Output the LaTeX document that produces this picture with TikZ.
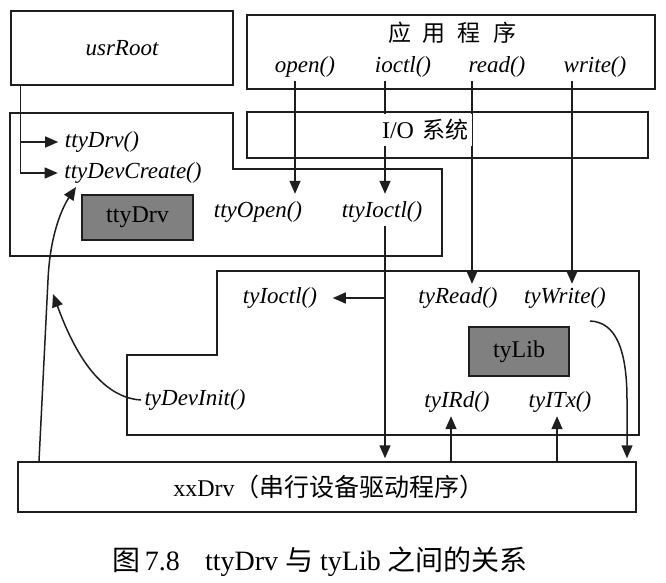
\documentclass[tikz,border=0pt]{standalone}
\usepackage{fontspec}
\setmainfont{Liberation Serif}
\newfontfamily\cjk{Noto Sans CJK SC}
\usetikzlibrary{arrows.meta,calc}
\pgfdeclarelayer{bg}
\pgfsetlayers{bg,main}
\definecolor{boxgray}{RGB}{128,128,128}
\definecolor{ink}{RGB}{30,30,30}
\begin{document}
\begin{tikzpicture}[x=1pt,y=-1pt,
  line width=1.5pt, draw=ink,
  arr/.style={line width=1.5pt, draw=ink, -{Triangle[length=13pt,width=11pt]}},
  box/.style={draw=ink, rectangle, inner sep=0pt},
  lab/.style={font=\fontsize{23}{26}\selectfont\itshape, inner sep=3pt},
  upr/.style={font=\fontsize{24}{27}\selectfont, inner sep=3pt},
  gbox/.style={draw=ink, fill=boxgray, inner sep=0pt, font=\fontsize{24}{27}\selectfont}]
\useasboundingbox (0,0) rectangle (666,583);

% top boxes
\node[box, lab, minimum width=222pt, minimum height=74pt] (usr) at (122,48) {usrRoot};
\node[box, minimum width=408pt, minimum height=74pt] (app) at (451,52) {};
\node[font=\fontsize{23}{26}\cjk, inner sep=2pt] (apptitle) at (452,33) {应\hspace{12pt}用\hspace{12pt}程\hspace{12pt}序};
\node[lab] (open) at (305,67) {open()};
\node[lab] (ioctl) at (403,67) {ioctl()};
\node[lab] (read) at (497,67) {read()};
\node[lab] (write) at (595,67) {write()};

\node[box, minimum width=401pt, minimum height=46pt] (io) at (447.5,135) {};
\node[upr, fill=white, minimum height=32pt, inner xsep=4pt] (iol) at (425,130) {I/O\hspace{8pt}{\cjk\fontsize{23}{26}\selectfont 系统}};

% ttyDrv region
\draw[ink] (10,113) -- (233,113) -- (233,169) -- (442,169) -- (442,256) -- (10,256) -- cycle;
\node[lab] (tdf) at (102,142) {ttyDrv()};
\node[lab] (tdc) at (133,173) {ttyDevCreate()};
\node[gbox, minimum width=111pt, minimum height=45pt] (tdrv) at (137.5,217.5) {ttyDrv};
\node[lab] (topen) at (258,212) {ttyOpen()};
\node[lab] (tioctl) at (382,212) {ttyIoctl()};

% tyLib region
\draw[ink] (217,271) -- (639,271) -- (639,435) -- (127,435) -- (127,355) -- (217,355) -- cycle;
\node[lab] (tyioctl) at (280,298) {tyIoctl()};
\node[lab] (tyread) at (458,298) {tyRead()};
\node[lab] (tywrite) at (565,298) {tyWrite()};
\node[gbox, minimum width=100pt, minimum height=49pt] (tylib) at (519,351.5) {tyLib};
\node[lab] (tyird) at (457,402) {tyIRd()};
\node[lab] (tyitx) at (560,402) {tyITx()};
\node[lab] (tydevinit) at (195,400) {tyDevInit()};

% xxDrv
\node[box, minimum width=618pt, minimum height=50pt] (xx) at (327,487) {};
\node[upr] (xxl) at (329,487) {xxDrv{\cjk\fontsize{25}{28}\selectfont （串行设备驱动程序）}};

% caption
\node[font=\fontsize{28}{31}\selectfont, inner sep=0pt] (cap) at (320,562) {{\cjk 图}\,7.8\hspace{0.9em}ttyDrv {\cjk 与} tyLib {\cjk 之间的关系}};

\coordinate (u0) at ([xshift=10pt]usr.south west);
\coordinate (wstart) at (590,321);
\coordinate (wr) at (627,0);
\coordinate (xl) at (39,0);
\coordinate (tdctip) at (76,187);
\coordinate (ditip) at (53,294);

\begin{pgfonlayer}{bg}
\begin{scope}[line width=1.5pt]
\draw[arr, shorten >=3pt] (u0) |- (tdc.west);
\draw[arr, shorten >=3pt] (u0 |- tdf.west) -- (tdf.west);
\draw[arr] ([xshift=-10pt]open.south) -- ([xshift=-10pt,yshift=4pt]open.south |- topen.north);
\draw[arr] ([xshift=-18pt]ioctl.south) -- ([xshift=-18pt,yshift=4pt]ioctl.south |- tioctl.north);
\draw[arr] ([xshift=-25pt]read.south) -- ([xshift=-25pt]read.south |- tyread.north);
\draw[arr] ([xshift=-23pt]write.south) -- ([xshift=-23pt]write.south |- tywrite.north);
\draw[arr] ([xshift=3pt]tioctl.south) -- ([xshift=3pt,yshift=3pt]tioctl.south |- xx.north);
\draw[arr, shorten >=12pt] ([xshift=3pt]tioctl.south |- tyioctl.east) -- (tyioctl.east);
\draw[arr] ([xshift=-6pt]tyird.south |- xx.north) -- ([xshift=-6pt]tyird.south);
\draw[arr] ([xshift=-3pt]tyitx.south |- xx.north) -- ([xshift=-3pt]tyitx.south);
\draw[arr] (wstart) .. controls (616,322) and (627,350) .. (627,400) -- ([yshift=3pt]xx.north -| wr);
\draw[arr] (tydevinit.west) .. controls (95,397) and (70,340) .. (ditip);
\draw[arr] (xx.north -| xl) -- (48,280) .. controls (50,235) and (62,208) .. (tdctip);
\end{scope}
\end{pgfonlayer}
\end{tikzpicture}
\end{document}
